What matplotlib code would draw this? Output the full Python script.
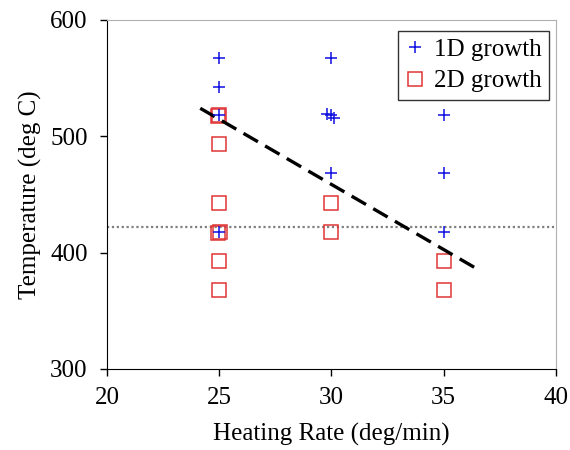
import matplotlib
matplotlib.use("Agg")
import matplotlib.pyplot as plt

plt.rcParams["font.family"] = ["Liberation Serif", "DejaVu Serif"]

# --- Daten ---
rate_1d = [25, 25, 25, 25, 30, 29.8, 30, 30.1, 30, 35, 35, 35]
temp_1d = [567, 542, 518, 418, 567, 519, 518, 516, 468, 518, 468, 418]

rate_2d = [25, 24.95, 25, 25, 25.05, 24.95, 25, 25, 30, 30, 35, 35]
temp_2d = [518, 517, 493, 443, 418, 417, 393, 368, 443, 418, 393, 368]

trend_x = [24.15, 36.4]
trend_y = [524, 387]

threshold = 422

FS = 18

fig = plt.figure(figsize=(5.7, 4.5), dpi=100)
ax = fig.add_axes([0.188, 0.18, 0.787, 0.776])

ax.axhline(threshold, color="#808080", linestyle=(0, (1, 1.2)), linewidth=1.6, zorder=1)
ax.plot(trend_x, trend_y, color="black", linestyle=(0, (5, 2.5)), linewidth=2.4, zorder=4)

ax.plot(rate_1d, temp_1d, linestyle="none", marker="+", markersize=9,
        markeredgewidth=1.1, color="#1010e0", label="1D growth", zorder=5)
ax.plot(rate_2d, temp_2d, linestyle="none", marker="s", markersize=10,
        markerfacecolor="none", markeredgecolor="#e03535", markeredgewidth=1.1,
        label="2D growth", zorder=3)

ax.set_xlim(20, 40)
ax.set_ylim(300, 600)
ax.set_xticks([20, 25, 30, 35, 40])
ax.set_yticks([300, 400, 500, 600])
ax.tick_params(direction="out", length=5, width=1, labelsize=FS, pad=8)
ax.tick_params(axis="y", pad=9)
ax.set_xlabel("Heating Rate (deg/min)", fontsize=FS, labelpad=10)
ax.set_ylabel("Temperature (deg C)", fontsize=FS, labelpad=6)

ax.spines["top"].set_color("#b0b0b0")
ax.spines["right"].set_color("#b0b0b0")

leg = ax.legend(loc="upper right", bbox_to_anchor=(0.997, 0.982), fontsize=FS,
                frameon=True, fancybox=False, edgecolor="black",
                handlelength=0.8, handletextpad=0.35, borderpad=0.3,
                labelspacing=0.35, borderaxespad=0.2)
leg.get_frame().set_linewidth(1.0)

fig.savefig("out.png", dpi=100)
